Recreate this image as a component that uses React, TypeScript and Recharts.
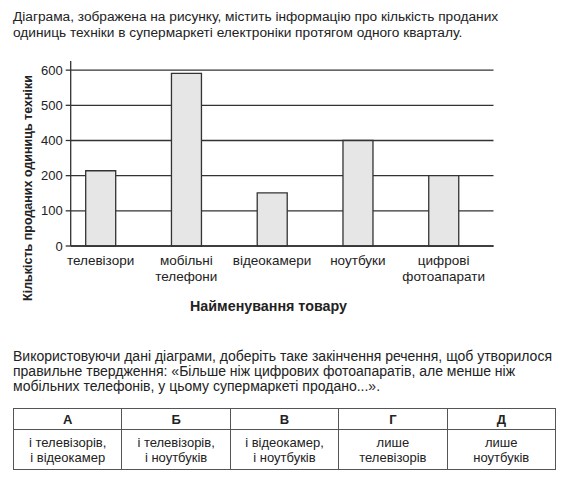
import React from 'react';
import { BarChart, Bar, XAxis, YAxis, CartesianGrid } from 'recharts';

const FONT = '"Liberation Sans", Arial, sans-serif';

// категорії та значення, зчитані з діаграми
const categories = ['телевізори', 'мобільні телефони', 'відеокамери', 'ноутбуки', 'цифрові фотоапарати'];
const sold = [228, 591, 151, 400, 200];

// підписи осі Y (на оригіналі 300 пропущено, поділки рівномірні)
const yTickLabels = [0, 100, 200, 400, 500, 600];
const yTicks = yTickLabels.map((_, i) => i);

const headerText =
  'Діаграма, зображена на рисунку, містить інформацію про кількість проданих одиниць техніки в супермаркеті електроніки протягом одного кварталу.';
const questionText =
  'Використовуючи дані діаграми, доберіть таке закінчення речення, щоб утворилося правильне твердження: «Більше ніж цифрових фотоапаратів, але менше ніж мобільних телефонів, у цьому супермаркеті продано...».';

const optionLetters = ['А', 'Б', 'В', 'Г', 'Д'];
const optionTexts = [
  ['і телевізорів,', 'і відеокамер'],
  ['і телевізорів,', 'і ноутбуків'],
  ['і відеокамер,', 'і ноутбуків'],
  ['лише', 'телевізорів'],
  ['лише', 'ноутбуків'],
];

// значення -> позиція на осі з рівномірними поділками
function toAxis(v: number): number {
  for (let i = 1; i < yTickLabels.length; i++) {
    const a = yTickLabels[i - 1];
    const b = yTickLabels[i];
    if (v <= b) return i - 1 + (v - a) / (b - a);
  }
  return yTickLabels.length - 1;
}

const data = categories.map((name, i) => ({ name, value: sold[i], pos: toAxis(sold[i]) }));

// лінії сітки лише на поділках, через шкалу осі Y
function gridLines(p: any): number[] {
  const sc = p && p.yAxis ? p.yAxis.scale : null;
  if (!sc) return [];
  return yTicks.map((t) => (typeof sc === 'function' ? sc(t) : sc.map(t))).filter((v) => v != null);
}

function CategoryTick(props: any) {
  const { x, y, payload } = props;
  const words = String(payload.value).split(' ');
  return (
    <text x={x} y={y} textAnchor="middle" fill="#222" fontSize={13.5} fontFamily={FONT}>
      {words.map((w, i) => (
        <tspan key={i} x={x} dy={i === 0 ? 19 : 16}>
          {w}
        </tspan>
      ))}
    </text>
  );
}

export default function App() {
  const cell: React.CSSProperties = {
    border: '1px solid #555',
    textAlign: 'center',
    width: '20%',
    padding: 0,
  };
  return (
    <div
      style={{
        position: 'absolute',
        left: 0,
        top: 0,
        width: 567,
        height: 481,
        background: '#fff',
        fontFamily: FONT,
        color: '#222',
        fontSize: 13,
      }}
    >
      <div style={{ position: 'absolute', left: 13, top: 9, width: 530, fontSize: 13.7, lineHeight: '16px' }}>
        {headerText}
      </div>

      <div style={{ position: 'absolute', left: 0, top: 0 }}>
        <BarChart
          width={567}
          height={330}
          data={data}
          margin={{ top: 61, right: 73.5, left: 0, bottom: 54 }}
          barSize={30}
        >
          <CartesianGrid vertical={false} stroke="#333" strokeWidth={1.3} horizontalCoordinatesGenerator={gridLines} />
          <XAxis
            dataKey="name"
            type="category"
            height={30}
            padding={{ left: -13, right: 7 }}
            tickLine={false}
            tickSize={0}
            tickMargin={0}
            axisLine={{ stroke: '#333', strokeWidth: 1.3 }}
            tick={<CategoryTick />}
            interval={0}
          />
          <YAxis
            type="number"
            width={70.7}
            domain={[0, 5.26]}
            ticks={yTicks}
            tickFormatter={(v: number) => String(yTickLabels[v])}
            tickSize={5}
            tickMargin={3}
            tick={{ fill: '#222', fontSize: 13, fontFamily: FONT }}
            tickLine={{ stroke: '#333', strokeWidth: 1.3 }}
            axisLine={{ stroke: '#333', strokeWidth: 1.3 }}
          />
          <Bar dataKey="pos" fill="#e6e6e6" stroke="#333" strokeWidth={1.3} isAnimationActive={false} />
        </BarChart>
      </div>

      <div
        style={{
          position: 'absolute',
          left: 28,
          top: 187.5,
          transform: 'translate(-50%, -50%) rotate(-90deg)',
          whiteSpace: 'nowrap',
          fontWeight: 'bold',
          fontSize: 12.5,
          lineHeight: '16px',
        }}
      >
        Кількість проданих одиниць техніки
      </div>
      <div
        style={{
          position: 'absolute',
          left: 268.5,
          top: 298,
          transform: 'translateX(-50%)',
          whiteSpace: 'nowrap',
          fontWeight: 'bold',
          fontSize: 14.3,
          lineHeight: '16px',
        }}
      >
        Найменування товару
      </div>

      <div style={{ position: 'absolute', left: 13, top: 349, width: 546, fontSize: 14, lineHeight: '15px' }}>
        {questionText}
      </div>

      <table
        style={{
          position: 'absolute',
          left: 13,
          top: 408,
          width: 543,
          borderCollapse: 'collapse',
          tableLayout: 'fixed',
          fontFamily: FONT,
          fontSize: 13,
          color: '#222',
        }}
      >
        <tbody>
          <tr style={{ height: 21 }}>
            {optionLetters.map((l) => (
              <td key={l} style={{ ...cell, fontWeight: 'bold' }}>
                {l}
              </td>
            ))}
          </tr>
          <tr style={{ height: 40 }}>
            {optionTexts.map((t, i) => (
              <td key={i} style={{ ...cell, lineHeight: '15px' }}>
                {t[0]}
                <br />
                {t[1]}
              </td>
            ))}
          </tr>
        </tbody>
      </table>
    </div>
  );
}
